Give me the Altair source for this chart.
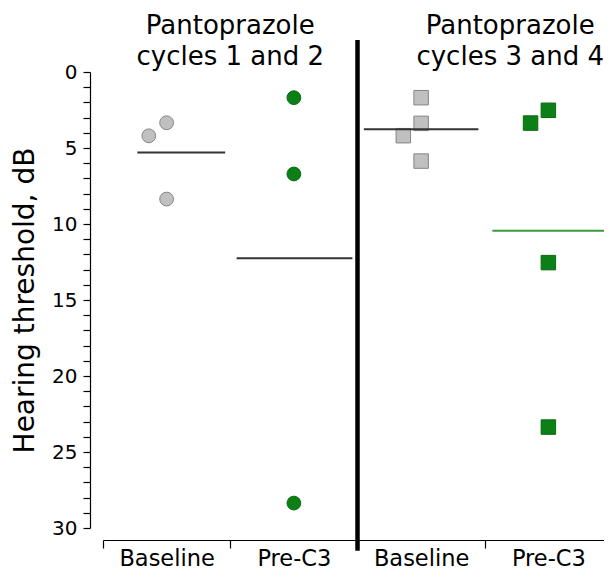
import json
import altair as alt
import pandas as pd

FONT = "DejaVu Sans"

# ---- data ----
# individual thresholds (x = category position incl. small horizontal jitter, y = dB)
b12_x = [0.50, 0.36, 0.50]
b12_y = [3.34, 4.20, 8.36]
p12_x = [1.50, 1.50, 1.50]
p12_y = [1.69, 6.71, 28.36]
b34_x = [2.50, 2.50, 2.36, 2.50]
b34_y = [1.69, 3.38, 4.19, 5.86]
p34_x = [3.50, 3.36, 3.50, 3.50]
p34_y = [2.52, 3.36, 12.54, 23.36]

# group means (horizontal lines)
mean_x1 = [0.27, 1.05, 2.05, 3.06]
mean_x2 = [0.96, 1.96, 2.95, 3.96]
mean_y = [5.30, 12.25, 3.77, 10.44]
mean_col = ["dark", "dark", "dark", "green"]

# panel titles
title_x = [1.0, 1.0, 3.20, 3.20]
title_y = [-2.53, -0.46, -2.53, -0.46]
title_text = ["Pantoprazole", "cycles 1 and 2", "Pantoprazole", "cycles 3 and 4"]

# separator between cycle groups
sep_x = [2.0]
sep_y1 = [-2.1]
sep_y2 = [31.5]

x_labels = ["Baseline", "Pre-C3", "Baseline", "Pre-C3"]
x_tick_values = [0, 0.5, 1, 1.5, 2, 2.5, 3, 3.5, 4]
y_tick_values = list(range(0, 31))

# ---- tables ----
rows = []
for xs_, ys_, grp, cyc in [(b12_x, b12_y, "Baseline", "c12"), (p12_x, p12_y, "Pre-C3", "c12"),
                           (b34_x, b34_y, "Baseline", "c34"), (p34_x, p34_y, "Pre-C3", "c34")]:
    for xv, yv in zip(xs_, ys_):
        rows.append({"x": xv, "y": yv, "grp": grp, "cyc": cyc})
pts = pd.DataFrame(rows)
means = pd.DataFrame({"x": mean_x1, "x2": mean_x2, "y": mean_y, "col": mean_col})
titles = pd.DataFrame({"x": title_x, "y": title_y, "t": title_text})
sep = pd.DataFrame({"x": sep_x, "y": sep_y1, "y2": sep_y2})

x_axis = alt.Axis(
    values=x_tick_values,
    labelExpr=f"datum.value % 1 == 0.5 ? {json.dumps(x_labels)}[floor(datum.value)] : ''",
    tickOpacity={"condition": {"test": "datum.value % 1 == 0", "value": 1}, "value": 0},
    offset=12, tickSize=8, labelPadding=17, labelBaseline="alphabetic",
    labelFontSize=22.5, labelFont=FONT,
    labelColor="black", domainColor="black", tickColor="black", domainWidth=1.2,
    tickWidth=1.2, grid=False, labelOverlap=False, labelFlush=False, labelBound=False,
    title=None,
)
y_axis = alt.Axis(
    values=y_tick_values,
    labelExpr="datum.value % 5 == 0 ? datum.label : ''",
    offset=13, tickSize=7, labelPadding=6, labelFontSize=20, labelFont=FONT,
    labelColor="black", domainColor="black", tickColor="black", domainWidth=1.2,
    tickWidth=1.2, grid=False, labelOverlap=False, labelFlush=False,
    title="Hearing threshold, dB", titleFont=FONT, titleFontSize=28,
    titleFontWeight="normal", titleColor="black", titlePadding=12,
)
xs = alt.Scale(domain=[0, 4], nice=False, zero=False)
ys = alt.Scale(domain=[0, 30], reverse=True, nice=False, zero=False)


def X(f):
    return alt.X(f"{f}:Q", scale=xs, axis=x_axis, title=None)


def Y(f):
    return alt.Y(f"{f}:Q", scale=ys, axis=y_axis, title="Hearing threshold, dB")


points = alt.Chart(pts).mark_point(filled=True, opacity=1, strokeWidth=1).encode(
    x=X("x"), y=Y("y"),
    shape=alt.Shape("cyc:N", scale=alt.Scale(domain=["c12", "c34"], range=["circle", "square"]), legend=None),
    fill=alt.Fill("grp:N", scale=alt.Scale(domain=["Baseline", "Pre-C3"], range=["#c0c0c0", "#0d7f17"]), legend=None),
    stroke=alt.Stroke("grp:N", scale=alt.Scale(domain=["Baseline", "Pre-C3"], range=["#858585", "#0a6a12"]), legend=None),
    size=alt.Size("cyc:N", scale=alt.Scale(domain=["c12", "c34"], range=[190, 210]), legend=None),
)

mean_lines = alt.Chart(means).mark_rule(strokeWidth=2).encode(
    x=X("x"), x2="x2", y=Y("y"),
    color=alt.Color("col:N", scale=alt.Scale(domain=["dark", "green"], range=["#333333", "#3c9a3c"]), legend=None),
)

separator = alt.Chart(sep).mark_rule(strokeWidth=4.5, color="black").encode(
    x=X("x"), y=Y("y"), y2="y2",
)

title_marks = alt.Chart(titles).mark_text(
    font=FONT, fontSize=26, align="center", baseline="alphabetic", color="black"
).encode(x=X("x"), y=Y("y"), text="t:N")

chart = alt.layer(points, mean_lines, separator, title_marks).properties(
    width=509, height=456,
    padding={"left": 95, "top": 64, "right": -8, "bottom": 43},
    autosize=alt.AutoSizeParams(type="none"),
).configure_view(stroke=None)

chart.save("out.html", embed_options={"renderer": "svg", "actions": False})
